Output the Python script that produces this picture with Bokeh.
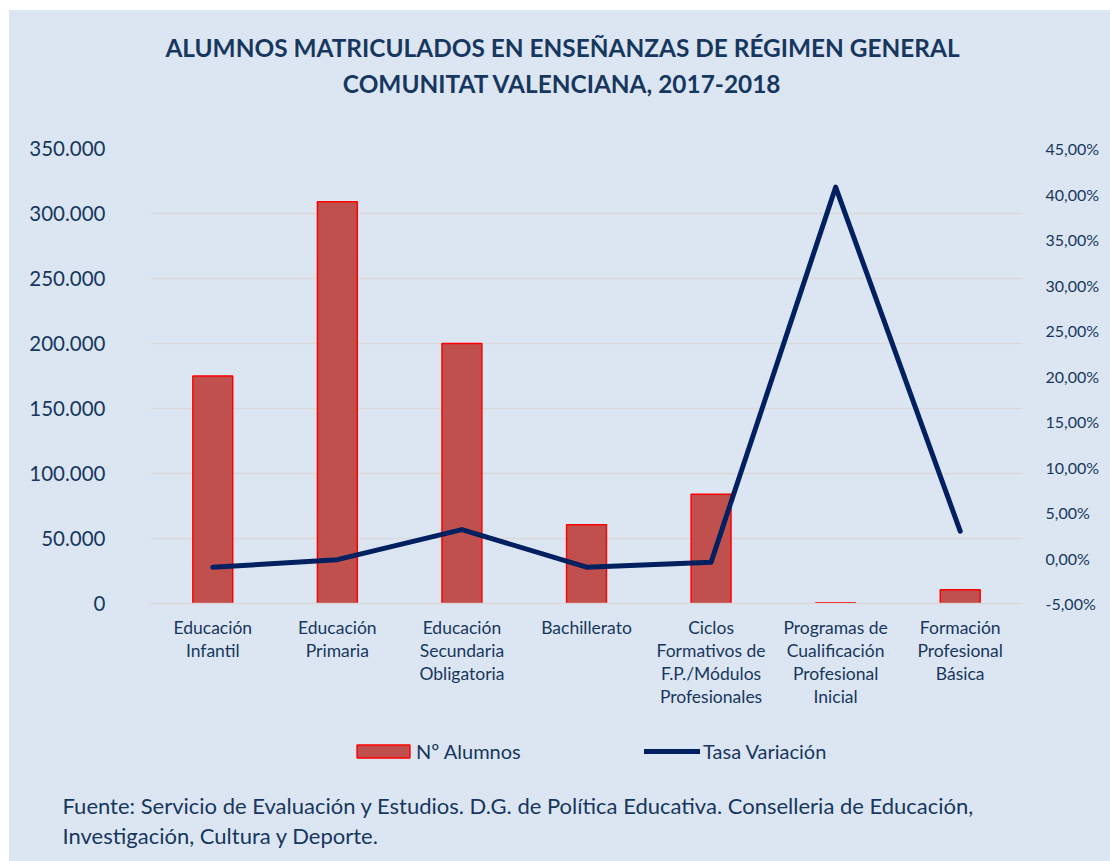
from bokeh.plotting import figure
from bokeh.layouts import column
from bokeh.models import (Range1d, LinearAxis, FixedTicker, CustomJSTickFormatter,
                          Label, Legend, LegendItem)
from bokeh.embed import file_html
from bokeh.resources import INLINE

# ---- data ----
categories = [
    "Educación\nInfantil",
    "Educación\nPrimaria",
    "Educación\nSecundaria\nObligatoria",
    "Bachillerato",
    "Ciclos\nFormativos de\nF.P./Módulos\nProfesionales",
    "Programas de\nCualificación\nProfesional\nInicial",
    "Formación\nProfesional\nBásica",
]
alumnos = [175000, 309000, 200000, 60500, 84000, 600, 10500]
tasa_variacion = [-0.0102, -0.0018, 0.0312, -0.0101, -0.0046, 0.4075, 0.0295]

left_ticks = [0, 50000, 100000, 150000, 200000, 250000, 300000, 350000]
right_ticks = [-0.05, 0.0, 0.05, 0.10, 0.15, 0.20, 0.25, 0.30, 0.35, 0.40, 0.45]

title_lines = ["ALUMNOS MATRICULADOS EN ENSEÑANZAS DE RÉGIMEN GENERAL",
               "COMUNITAT VALENCIANA, 2017-2018"]
footnote_lines = ["Fuente: Servicio de Evaluación y Estudios. D.G. de Política Educativa. Conselleria de Educación,",
                  "Investigación, Cultura y Deporte."]
series_names = ["Nº Alumnos", "Tasa Variación"]

# ---- style ----
BG = "#DCE6F2"
TXT = "#17375E"
GRID = "#D9D9D9"
BAR_FILL = "#C0504D"
BAR_LINE = "#FF0000"
LINE_COL = "#002060"
FONT = "Lato"
W = 1101


def style_bg(f):
    f.background_fill_color = None
    f.border_fill_color = BG
    f.outline_line_color = None


def blank_fig(h):
    f = figure(width=W, height=h, x_range=Range1d(0, 1), y_range=Range1d(0, 1),
               x_axis_type=None, y_axis_type=None, title_location=None,
               output_backend="svg", toolbar_location=None,
               min_border_left=0, min_border_right=0, min_border_top=0,
               min_border_bottom=0, frame_align=False)
    style_bg(f)
    f.xgrid.visible = False
    f.ygrid.visible = False
    return f


# ---- title strip ----
top = blank_fig(120)
for t, yy in zip(title_lines, [83, 47]):
    top.add_layout(Label(x=553, y=yy, x_units="screen", y_units="screen", text=t,
                         text_align="center", text_baseline="middle",
                         text_font=FONT, text_font_style="bold",
                         text_font_size="24.4px", text_color=TXT))

# ---- main chart ----
p = figure(x_range=categories, y_range=Range1d(0, 350000),
           width=W, height=585, title_location=None,
           output_backend="svg", toolbar_location=None,
           min_border_left=141, min_border_right=88, min_border_top=18,
           min_border_bottom=112, frame_align=False)
style_bg(p)
p.extra_y_ranges = {"right": Range1d(-0.05, 0.45)}

bars = p.vbar(x=categories, top=alumnos, width=0.32, fill_color=BAR_FILL,
              line_color=BAR_LINE, line_width=1.5)
line = p.line(x=categories, y=tasa_variacion, y_range_name="right",
              line_color=LINE_COL, line_width=5, line_cap="round", line_join="round")

ya = p.yaxis[0]
ya.ticker = FixedTicker(ticks=left_ticks)
ya.formatter = CustomJSTickFormatter(
    code="return tick.toFixed(0).replace(/\\B(?=(\\d{3})+(?!\\d))/g, '.');")
ya.axis_line_color = None
ya.major_tick_line_color = None
ya.minor_tick_line_color = None
ya.major_label_standoff = 39
ya.major_label_text_font = FONT
ya.major_label_text_font_size = "20.5px"
ya.major_label_text_color = TXT

ra = LinearAxis(y_range_name="right", ticker=FixedTicker(ticks=right_ticks))
ra.formatter = CustomJSTickFormatter(
    code="return (tick*100).toFixed(2).replace('.', ',') + '%';")
ra.axis_line_color = None
ra.major_tick_line_color = None
ra.minor_tick_line_color = None
ra.major_label_standoff = 17
ra.major_label_text_font = FONT
ra.major_label_text_font_size = "16px"
ra.major_label_text_color = TXT
p.add_layout(ra, "right")

xa = p.xaxis[0]
xa.axis_line_color = GRID
xa.axis_line_width = 1.5
xa.major_tick_line_color = None
xa.minor_tick_line_color = None
xa.major_label_standoff = 7
xa.major_label_text_font = FONT
xa.major_label_text_font_size = "17.5px"
xa.major_label_text_color = TXT
xa.major_label_text_line_height = 1.1

p.xgrid.grid_line_color = None
p.ygrid.grid_line_color = GRID
p.ygrid.grid_line_width = 1.5

# ---- legend + footnote strip ----
bot = blank_fig(146)
# legend-key renderers (their single point lies outside the strip's range, so only the key shows)
leg_bar = bot.vbar(x=[-5], top=[-5], width=0.3, fill_color=BAR_FILL,
                   line_color=BAR_LINE, line_width=1.5)
leg_line = bot.line(x=[-5, -4], y=[-5, -5], line_color=LINE_COL, line_width=5,
                    line_cap="round")


def mk_legend(label, r, loc, gw, standoff):
    lg = Legend(items=[LegendItem(label=label, renderers=[r])], location=loc,
                orientation="horizontal", glyph_width=gw, glyph_height=16,
                label_standoff=standoff, padding=0, margin=0, spacing=0,
                background_fill_alpha=0, border_line_color=None,
                label_text_font=FONT, label_text_font_size="20px",
                label_text_color=TXT)
    bot.add_layout(lg, "center")


mk_legend(series_names[0], leg_bar, (341, 98), 66, 0)
mk_legend(series_names[1], leg_line, (635, 98), 56, 3)

for t, yy in zip(footnote_lines, [56, 26]):
    bot.add_layout(Label(x=53, y=yy, x_units="screen", y_units="screen", text=t,
                         text_align="left", text_baseline="middle",
                         text_font=FONT, text_font_size="22px", text_color=TXT))

layout = column(top, p, bot, spacing=0, margin=(10, 0, 0, 9),
                styles={"background-color": BG})
open("out.html", "w").write(file_html(layout, INLINE))
